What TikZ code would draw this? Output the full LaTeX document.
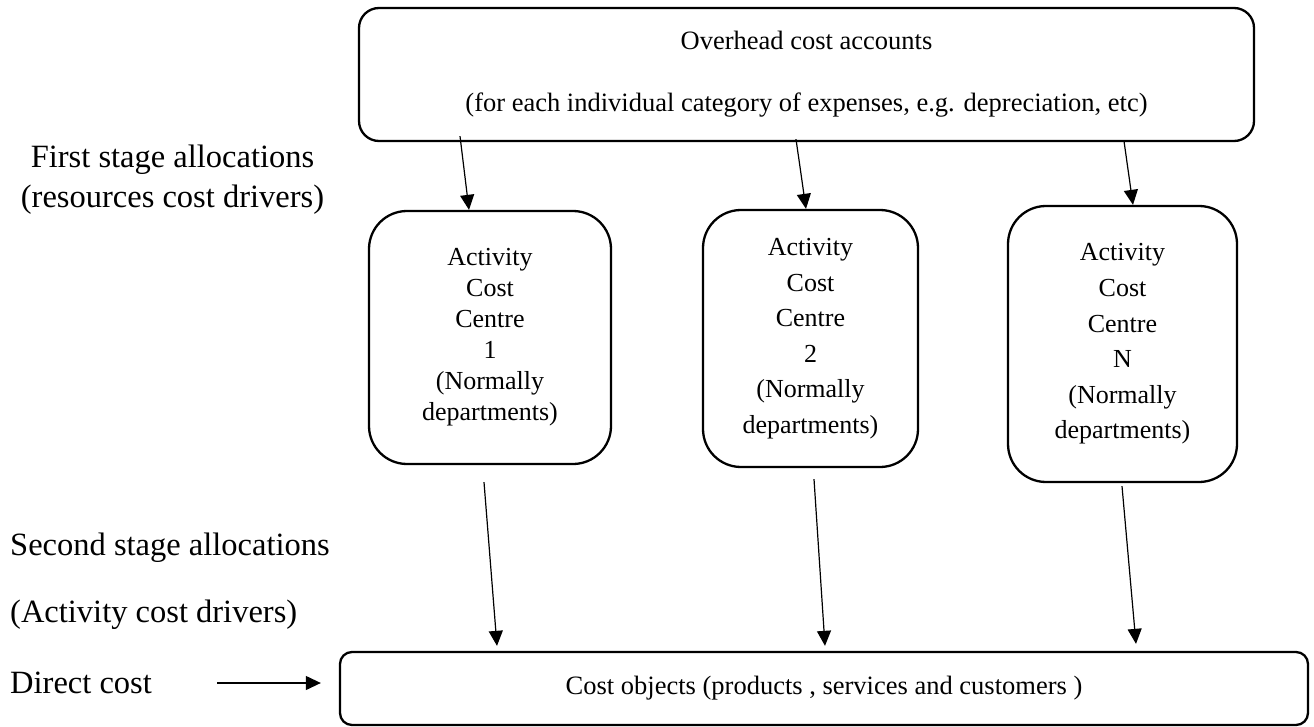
\documentclass[tikz,border=0pt]{standalone}
\usepackage{fontspec}
\setmainfont{Liberation Serif}
\usetikzlibrary{arrows.meta}
\begin{document}
\begin{tikzpicture}[x=1pt,y=-1pt,
  box/.style={draw, line width=2.3pt, align=center, inner sep=0pt},
  centre/.style={box, rounded corners=38pt, font=\fontsize{26}{#1}\selectfont},
  link/.style={line width=1.2pt, -{Triangle[length=15pt,width=14pt]}},
  lbl/.style={inner sep=0pt, font=\fontsize{32.5}{40}\selectfont}
]
\useasboundingbox (0,0) rectangle (1314,727);

% overhead pool
\node[box, rounded corners=20pt, minimum width=895pt, minimum height=133pt,
      font=\fontsize{26.5}{31}\selectfont] (ovh) at (806.5,74.5)
  {Overhead cost accounts\\[31pt](for each individual category of expenses, e.g. depreciation, etc)};

% activity cost centres
\node[centre=31, minimum width=242pt, minimum height=253pt] (c1) at (490,337.5)
  {Activity\\Cost\\Centre\\1\\(Normally\\departments)};
\node[centre=35.5, minimum width=215pt, minimum height=257pt] (c2) at (810.5,338.5)
  {Activity\\Cost\\Centre\\2\\(Normally\\departments)};
\node[centre=35.6, minimum width=229pt, minimum height=276pt] (cN) at (1122.5,344)
  {Activity\\Cost\\Centre\\N\\(Normally\\departments)};

% cost objects
\node[box, rounded corners=12pt, minimum width=968pt, minimum height=73pt,
      font=\fontsize{26.5}{31}\selectfont] (obj) at (824,688.5)
  {Cost objects (products , services and customers )};

% side labels
\node[lbl, anchor=base] (fs1) at (172.5,168) {First stage allocations};
\node[lbl, anchor=base] (fs2) at (172.5,208) {(resources cost drivers)};
\node[lbl, anchor=base west] (ss1) at (10,555) {Second stage allocations};
\node[lbl, anchor=base west] (ss2) at (10,622) {(Activity cost drivers)};
\node[lbl, anchor=west] (dc) at (10,683) {Direct cost};

% first stage allocations
\draw[link] ([xshift=-346.5pt,yshift=6pt]ovh.south) -- ([xshift=-21pt]c1.north);
\draw[link] ([xshift=-10.5pt,yshift=3pt]ovh.south) -- ([xshift=-4.5pt]c2.north);
\draw[link] ([xshift=317.5pt,yshift=1pt]ovh.south) -- ([xshift=10.5pt]cN.north);

% second stage allocations
\draw[link] ([xshift=-6pt,yshift=-17pt]c1.south) -- ([xshift=-327pt,yshift=5pt]obj.north);
\draw[link] ([xshift=3.5pt,yshift=-11pt]c2.south) -- ([xshift=1pt,yshift=5pt]obj.north);
\draw[link] ([xshift=-0.5pt,yshift=-3pt]cN.south) -- ([xshift=312pt,yshift=7pt]obj.north);

% direct cost
\draw[link] ([xshift=65pt]dc.east) -- ([xshift=-18pt,yshift=5.5pt]obj.west);
\end{tikzpicture}
\end{document}
